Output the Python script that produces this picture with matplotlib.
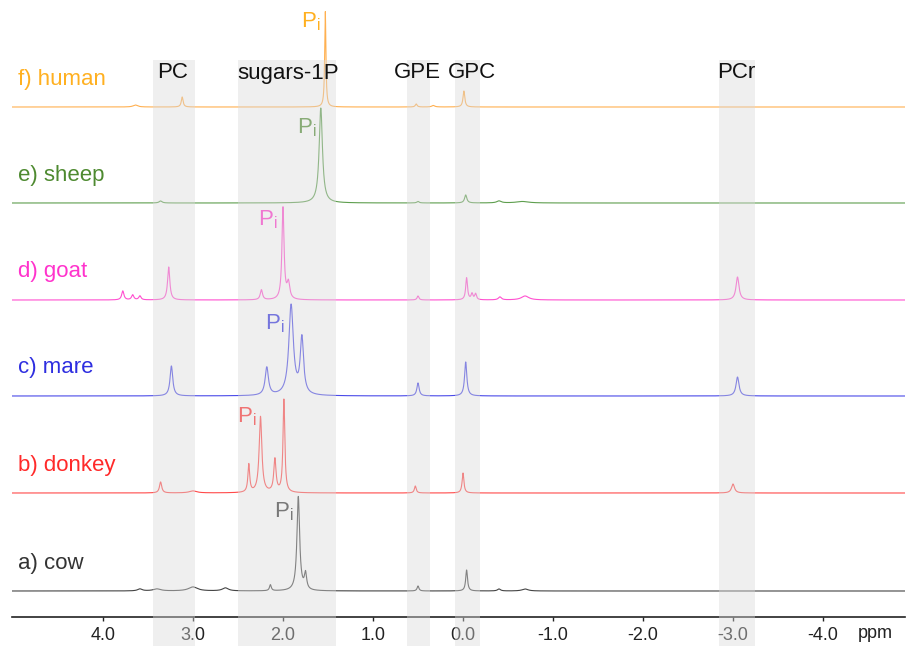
# -*- coding: utf-8 -*-
"""
31P NMR spectra of milk from six species, stacked
"""

import matplotlib
matplotlib.use('Agg')
import matplotlib.pyplot as plt
import numpy as np

plt.rcParams['font.family'] = ['Liberation Sans', 'DejaVu Sans']
plt.rcParams['mathtext.fontset'] = 'custom'
plt.rcParams['mathtext.rm'] = 'Liberation Sans'
plt.rcParams['mathtext.it'] = 'Liberation Sans'

# ========== data ==========
species = ['a) cow', 'b) donkey', 'c) mare', 'd) goat', 'e) sheep', 'f) human']

# peak centres (ppm), heights (a.u.), half widths (ppm)
cow_ppm = [3.59, 3.40, 3.00, 2.64, 2.14, 1.83, 1.75, 0.50, -0.04, -0.40, -0.69]
cow_height = [2, 2, 4, 3, 6, 94, 16, 5, 21, 2, 2]
cow_width = [0.03, 0.05, 0.06, 0.04, 0.012, 0.018, 0.015, 0.012, 0.012, 0.02, 0.04]

donkey_ppm = [3.36, 3.00, 2.38, 2.25, 2.09, 1.99, 0.53, 0.00, -3.00]
donkey_height = [11, 2, 28, 76, 33, 93, 7, 20, 9]
donkey_width = [0.015, 0.05, 0.012, 0.018, 0.015, 0.012, 0.012, 0.012, 0.02]

mare_ppm = [3.24, 2.18, 1.91, 1.79, 0.50, -0.03, -3.05]
mare_height = [30, 28, 90, 56, 13, 34, 19]
mare_width = [0.018, 0.022, 0.03, 0.022, 0.015, 0.015, 0.02]

goat_ppm = [3.78, 3.67, 3.59, 3.27, 2.24, 2.00, 1.94, 0.50, -0.04, -0.10, -0.14, -0.41, -0.69, -3.05]
goat_height = [9, 5, 4, 33, 10, 92, 16, 4, 22, 6, 6, 3, 4, 23]
goat_width = [0.015, 0.015, 0.015, 0.015, 0.015, 0.014, 0.018, 0.012, 0.012, 0.012, 0.012, 0.02, 0.05, 0.02]

sheep_ppm = [3.36, 1.58, 0.50, -0.03, -0.40, -0.66]
sheep_height = [2, 95, 1.5, 8, 2, 1.5]
sheep_width = [0.02, 0.022, 0.015, 0.015, 0.03, 0.08]

human_ppm = [3.64, 3.12, 1.53, 0.52, 0.33, -0.01]
human_height = [2, 10, 96, 3, 1.5, 16]
human_width = [0.03, 0.012, 0.008, 0.012, 0.02, 0.012]

peaks_ppm = [cow_ppm, donkey_ppm, mare_ppm, goat_ppm, sheep_ppm, human_ppm]
peaks_height = [cow_height, donkey_height, mare_height, goat_height, sheep_height, human_height]
peaks_width = [cow_width, donkey_width, mare_width, goat_width, sheep_width, human_width]

# shaded assignment regions (ppm)
region_names = ['PC', 'sugars-1P', 'GPE', 'GPC', 'PCr']
region_lo = [2.98, 1.41, 0.37, -0.19, -3.24]
region_hi = [3.44, 2.50, 0.62, 0.09, -2.84]
region_label_ppm = [3.23, 1.94, 0.51, -0.10, -3.04]

tick_ppm = [4.0, 3.0, 2.0, 1.0, 0.0, -1.0, -2.0, -3.0, -4.0]

# ========== layout / style ==========
offsets = [26, 124, 221, 317, 414, 510]
label_colors = ['#333333', '#FF2A2A', '#2E2EE0', '#FF33CC', '#4E8A30', '#FFB020']
line_colors = ['#444444', '#FF4A4A', '#4A4AE8', '#FF50D0', '#5E9E4E', '#FFB050']
pi_xy = [(1.99, 105), (2.40, 200), (2.09, 293), (2.17, 397), (1.74, 489), (1.69, 595)]

fig = plt.figure(figsize=(9.07, 6.46), dpi=100)
ax = fig.add_axes([12 / 907, 29 / 646, 893 / 907, 617 / 646])

ppm = np.linspace(5.02, -4.92, 8000)

for i in range(len(species)):
    spec = np.zeros_like(ppm)
    for p, h, w in zip(peaks_ppm[i], peaks_height[i], peaks_width[i]):
        spec += h / (1 + ((ppm - p) / w) ** 2)
    ax.plot(ppm, spec + offsets[i], color=line_colors[i], lw=0.8, zorder=2)
    ax.text(4.94, offsets[i] + 28, species[i], color=label_colors[i],
            fontsize=16, ha='left', va='center', zorder=5)
    ax.text(pi_xy[i][0], pi_xy[i][1], r'P$_{\rm i}$', color=label_colors[i],
            fontsize=16, ha='center', va='center', zorder=2.5)

# grey bands, drawn over the traces and the axis
for lo, hi in zip(region_lo, region_hi):
    ax.axvspan(lo, hi, ymin=-0.05, ymax=557 / 617, facecolor='#d9d9d9',
               alpha=0.42, edgecolor='none', zorder=3, clip_on=False)

for name, x in zip(region_names, region_label_ppm):
    ax.text(x, 544, name, fontsize=16, ha='center', va='center', color='#111111', zorder=6)

# ========== axes ==========
ax.set_xlim(5.011, -4.911)
ax.set_ylim(0, 617)
ax.set_xticks(tick_ppm)
ax.set_xticklabels([f'{t:.1f}' for t in tick_ppm])
ax.tick_params(axis='x', direction='out', length=3, width=1, pad=4,
               labelsize=13, colors='#222222')
ax.set_yticks([])
for s in ['left', 'right', 'top']:
    ax.spines[s].set_visible(False)
ax.spines['bottom'].set_linewidth(1.2)
ax.spines['bottom'].set_color('#222222')
ax.patch.set_visible(False)

fig.text(875 / 907, 1 - 633 / 646, 'ppm', fontsize=13, ha='center', va='center', color='#222222')

plt.savefig('out.png', dpi=100, facecolor='white')
plt.close()
